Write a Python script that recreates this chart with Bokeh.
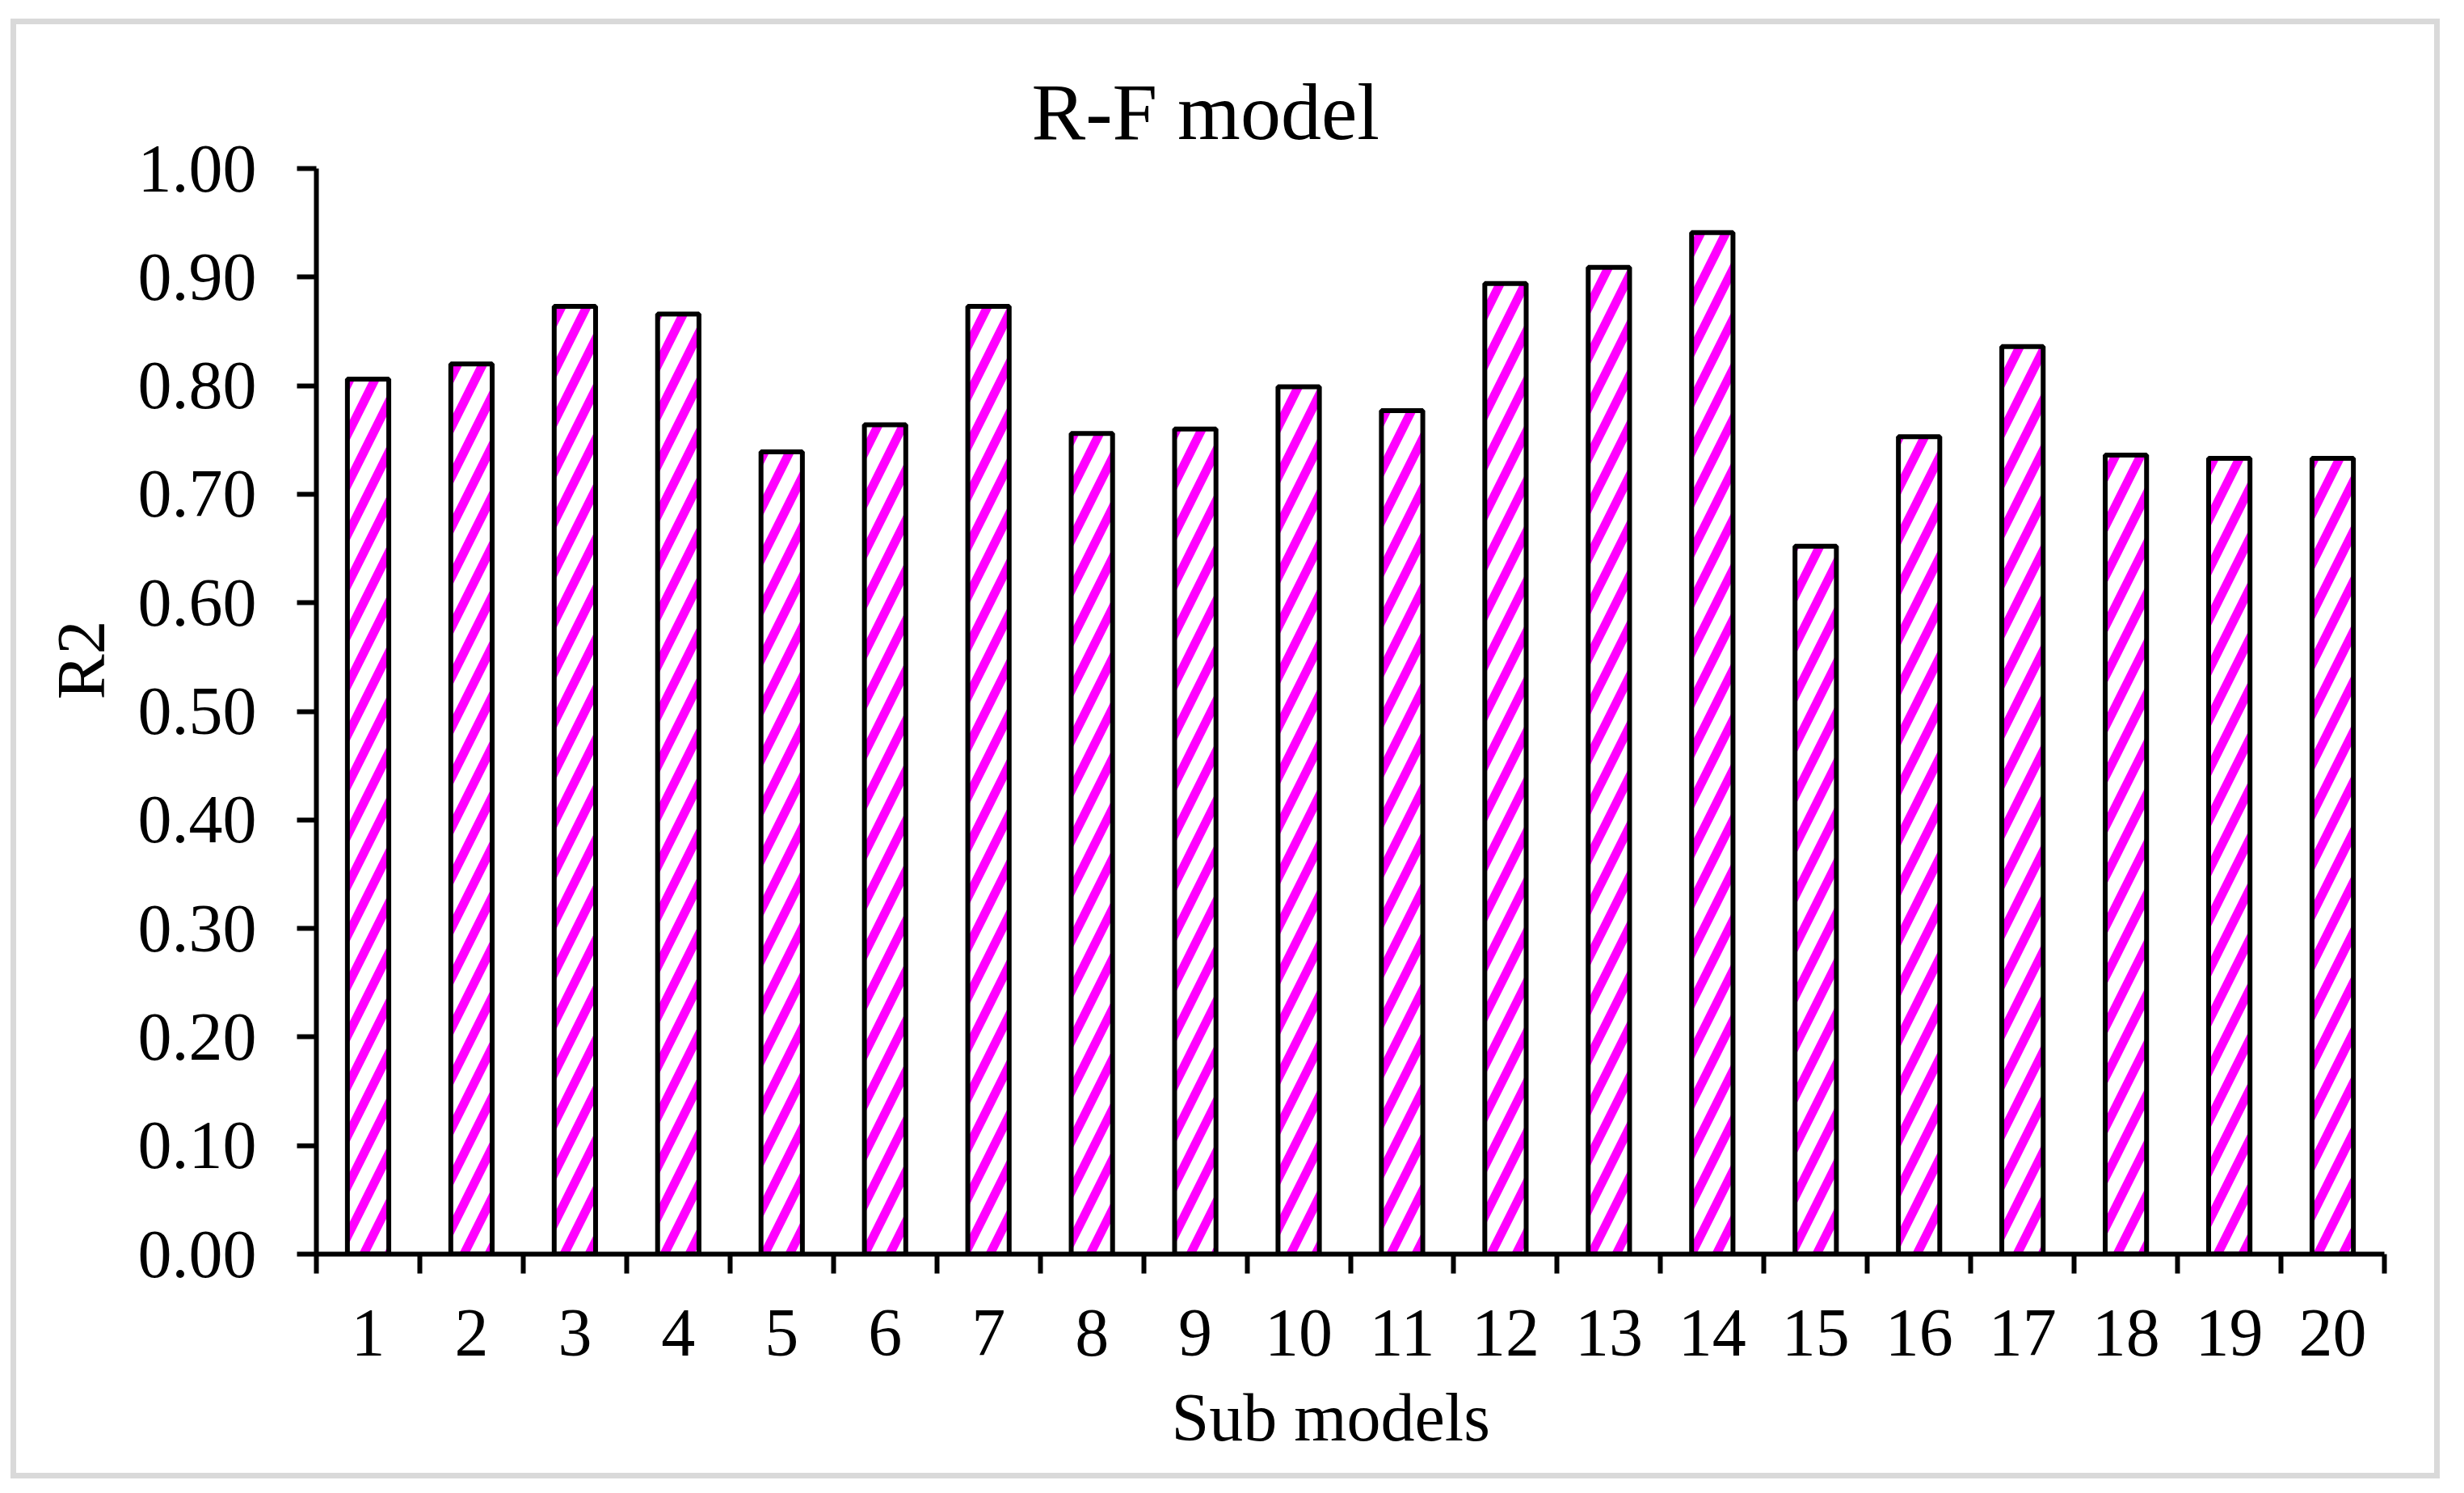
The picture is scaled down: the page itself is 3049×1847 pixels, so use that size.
from bokeh.plotting import figure
from bokeh.models import Range1d, FixedTicker, NumeralTickFormatter, Title
from bokeh.embed import file_html
from bokeh.resources import INLINE

# ---- data ----
categories = [str(i) for i in range(1, 21)]
r2_values = [0.806, 0.820, 0.873, 0.866, 0.739, 0.764, 0.873, 0.756, 0.760, 0.799,
             0.777, 0.894, 0.909, 0.941, 0.652, 0.753, 0.836, 0.736, 0.733, 0.733]
y_ticks = [0.0, 0.1, 0.2, 0.3, 0.4, 0.5, 0.6, 0.7, 0.8, 0.9, 1.0]
title_text = "R-F model"
x_label = "Sub models"
y_label = "R2"

FONT = "Liberation Serif"

xs = list(range(1, len(categories) + 1))
boundaries = [i + 0.5 for i in range(0, len(categories) + 1)]

p = figure(width=3040, height=1840, output_backend="svg", toolbar_location=None,
           x_range=Range1d(0.5, len(categories) + 0.5), y_range=Range1d(0, 1.0),
           min_border_left=391, min_border_right=90, min_border_top=208, min_border_bottom=289)

p.vbar(x=xs, top=r2_values, width=0.4, bottom=0,
       fill_color="white", line_color="black", line_width=6,
       hatch_pattern="/", hatch_color="#FF00FF", hatch_scale=62, hatch_weight=11)

p.xgrid.visible = False
p.ygrid.visible = False
p.outline_line_color = None
p.background_fill_color = "white"
p.border_fill_color = None

# outer light-grey chart border (drawn on the host element behind the transparent border area)
p.styles = {
    "background-color": "white",
    "box-shadow": "inset -4px 6px 0 17px white, inset -4px 6px 0 24px #D9D9D9",
}

# x axis
xa = p.xaxis[0]
xa.ticker = FixedTicker(ticks=xs, minor_ticks=boundaries)
xa.major_label_overrides = {x: c for x, c in zip(xs, categories)}
xa.major_tick_line_color = None
xa.major_tick_out = 24
xa.major_tick_in = 0
xa.minor_tick_out = 24
xa.minor_tick_in = 0
xa.minor_tick_line_width = 6
xa.minor_tick_line_color = "black"
xa.axis_line_width = 6
xa.axis_line_color = "black"
xa.major_label_text_font = FONT
xa.major_label_text_font_size = "84px"
xa.major_label_text_color = "black"
xa.major_label_standoff = 45

# y axis
ya = p.yaxis[0]
ya.ticker = FixedTicker(ticks=y_ticks, minor_ticks=[])
ya.formatter = NumeralTickFormatter(format="0.00")
ya.major_tick_out = 24
ya.major_tick_in = 0
ya.major_tick_line_width = 6
ya.major_tick_line_color = "black"
ya.axis_line_width = 6
ya.axis_line_color = "black"
ya.major_label_text_font = FONT
ya.major_label_text_font_size = "84px"
ya.major_label_text_color = "black"
ya.major_label_standoff = 50

# title
p.title.text = title_text
p.title.text_font = FONT
p.title.text_font_size = "100px"
p.title.text_font_style = "normal"
p.title.text_color = "black"
p.title.align = "left"
p.title.offset = 885
p.title.standoff = 30

# axis titles
p.add_layout(Title(text=y_label, align="right", offset=559, standoff=42,
                   text_font=FONT, text_font_size="84px", text_font_style="normal",
                   text_color="black"), "left")
p.add_layout(Title(text=x_label, align="left", offset=1058, standoff=50,
                   text_font=FONT, text_font_size="84px", text_font_style="normal",
                   text_color="black"), "below")

open("out.html", "w").write(file_html(p, INLINE))
